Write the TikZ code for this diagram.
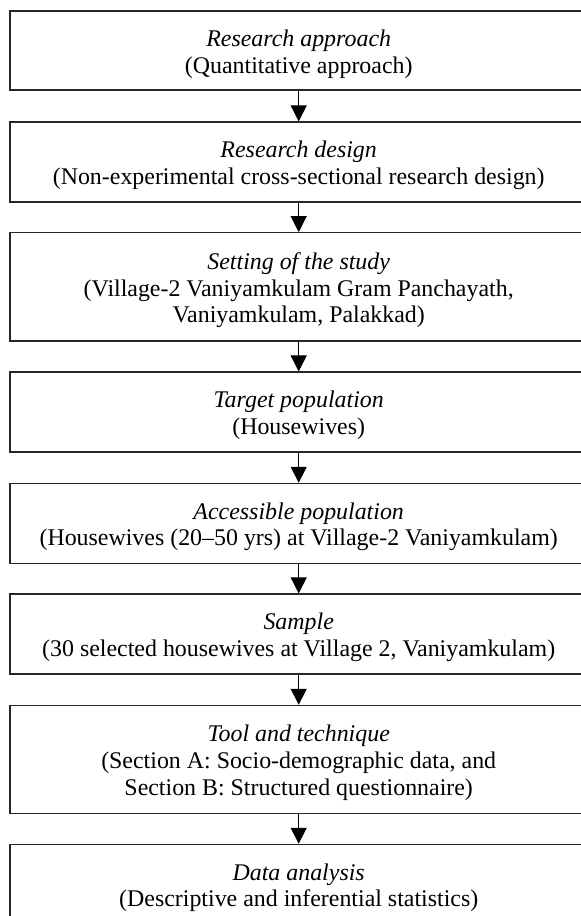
\documentclass[tikz,border=0pt]{standalone}
\usepackage{fontspec}
\setmainfont{Liberation Serif}
\usetikzlibrary{arrows.meta}
\begin{document}
\begin{tikzpicture}[x=1pt,y=-1pt,
  stagebox/.style={draw=black!85, line width=1.1pt, minimum width=577.4pt, inner sep=0pt},
  stagetext/.style={inner sep=0pt, align=center, yshift=-3.5pt, font=\fontsize{23.9}{26.7}\selectfont},
  flowarrow/.style={draw=black, line width=1pt, -{Triangle[length=16pt,width=16pt]}}]
\useasboundingbox (0,0) rectangle (581,916);
\clip (0,0) rectangle (581,916);
\node[stagebox, minimum height=79pt] (b1) at (298.7,50.5) {};
\node[stagetext] (t1) at (b1.center) {\textit{Research approach}\\(Quantitative approach)};
\node[stagebox, minimum height=80pt] (b2) at (298.7,162) {};
\node[stagetext] (t2) at (b2.center) {\textit{Research design}\\(Non-experimental cross-sectional research design)};
\node[stagebox, minimum height=108.3pt] (b3) at (298.7,286.8) {};
\node[stagetext] (t3) at (b3.center) {\textit{Setting of the study}\\(Village-2 Vaniyamkulam Gram Panchayath,\\Vaniyamkulam, Palakkad)};
\node[stagebox, minimum height=80pt] (b4) at (298.7,412) {};
\node[stagetext] (t4) at (b4.center) {\textit{Target population}\\(Housewives)};
\node[stagebox, minimum height=80pt] (b5) at (298.7,523.3) {};
\node[stagetext] (t5) at (b5.center) {\textit{Accessible population}\\(Housewives (20--50 yrs) at Village-2 Vaniyamkulam)};
\node[stagebox, minimum height=80pt] (b6) at (298.7,634) {};
\node[stagetext] (t6) at (b6.center) {\textit{Sample}\\(30 selected housewives at Village 2, Vaniyamkulam)};
\node[stagebox, minimum height=108pt] (b7) at (298.7,759.3) {};
\node[stagetext] (t7) at (b7.center) {\textit{Tool and technique}\\(Section A: Socio-demographic data, and\\Section B: Structured questionnaire)};
\node[stagebox, minimum height=80pt] (b8) at (298.7,884.3) {};
\node[stagetext] (t8) at (b8.center) {\textit{Data analysis}\\(Descriptive and inferential statistics)};
\foreach \a/\b in {b1/b2,b2/b3,b3/b4,b4/b5,b5/b6,b6/b7,b7/b8}
  \draw[flowarrow] (\a.south) -- (\b.north);
\end{tikzpicture}
\end{document}
